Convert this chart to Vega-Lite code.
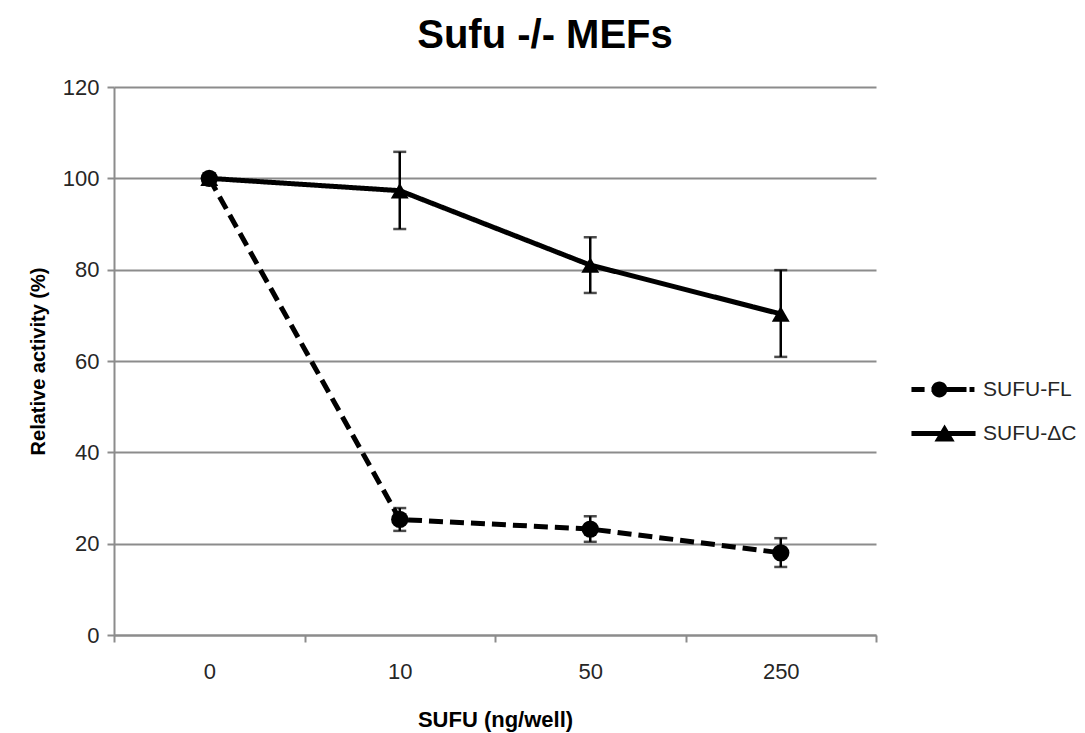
{
  "$schema": "https://vega.github.io/schema/vega-lite/v6.json",
  "width": 762,
  "height": 548,
  "autosize": "none",
  "padding": {"left": 114, "top": 87, "right": 209, "bottom": 98},
  "background": "white",
  "config": {
    "font": "Liberation Sans",
    "view": {"stroke": null},
    "axis": {"labelFont": "Liberation Sans", "titleFont": "Liberation Sans", "labelColor": "#262626", "titleColor": "#000000"}
  },
  "title": {
    "text": "Sufu -/- MEFs",
    "fontSize": 40,
    "fontWeight": "bold",
    "font": "Liberation Sans",
    "anchor": "middle",
    "dx": 50,
    "baseline": "bottom",
    "offset": -20,
    "color": "#000000"
  },
  "data": {
    "values": [
      {"dose": "0", "series": "SUFU-FL", "mean": 100, "low": 99, "high": 101},
      {"dose": "10", "series": "SUFU-FL", "mean": 25.3, "low": 22.8, "high": 27.8},
      {"dose": "50", "series": "SUFU-FL", "mean": 23.2, "low": 20.4, "high": 26.0},
      {"dose": "250", "series": "SUFU-FL", "mean": 18.0, "low": 14.9, "high": 21.2},
      {"dose": "0", "series": "SUFU-ΔC", "mean": 100, "low": 100, "high": 100},
      {"dose": "10", "series": "SUFU-ΔC", "mean": 97.3, "low": 88.9, "high": 105.8},
      {"dose": "50", "series": "SUFU-ΔC", "mean": 81.0, "low": 74.9, "high": 87.1},
      {"dose": "250", "series": "SUFU-ΔC", "mean": 70.3, "low": 60.9, "high": 79.9}
    ]
  },
  "encoding": {
    "x": {
      "field": "dose",
      "type": "ordinal",
      "sort": ["0", "10", "50", "250"],
      "scale": {"type": "band", "paddingInner": 0, "paddingOuter": 0},
      "axis": {
        "title": "SUFU (ng/well)",
        "titleFontSize": 22,
        "titleFontWeight": "bold",
        "titlePadding": 27,
        "labelAngle": 0,
        "labelFontSize": 22,
        "labelPadding": 19,
        "tickBand": "extent",
        "tickSize": 7,
        "tickWidth": 2,
        "tickColor": "#8c8c8c",
        "domainColor": "#8c8c8c",
        "domainWidth": 2,
        "grid": false
      }
    }
  },
  "layer": [
    {
      "mark": {"type": "line", "color": "black", "strokeWidth": 5},
      "encoding": {
        "y": {
          "field": "mean",
          "type": "quantitative",
          "scale": {"domain": [0, 120], "nice": false},
          "axis": {
            "title": "Relative activity (%)",
            "titleFontSize": 20,
            "titleFontWeight": "bold",
            "titlePadding": 14,
            "values": [0, 20, 40, 60, 80, 100, 120],
            "labelFontSize": 22,
            "labelPadding": 8,
            "tickSize": 7,
            "tickWidth": 2,
            "tickColor": "#8c8c8c",
            "domainColor": "#8c8c8c",
            "domainWidth": 2,
            "grid": true,
            "gridColor": "#8c8c8c",
            "gridWidth": 2
          }
        },
        "strokeDash": {
          "field": "series",
          "type": "nominal",
          "scale": {"domain": ["SUFU-FL", "SUFU-ΔC"], "range": [[14, 7], [1, 0]]},
          "legend": {
            "title": null,
            "orient": "none",
            "legendX": 808,
            "legendY": 281,
            "padding": 0,
            "symbolSize": 1849,
            "symbolFillColor": "black",
            "symbolStrokeColor": "black",
            "symbolStrokeWidth": 0,
            "symbolOpacity": 1,
            "labelFontSize": 21,
            "labelFont": "Liberation Sans",
            "labelColor": "#262626",
            "labelOffset": 18,
            "rowPadding": 12,
            "encode": {
              "symbols": {
                "update": {
                  "shape": {"signal": "datum.value === 'SUFU-FL' ? 'M-1.49,-0.116H-0.88V0.116H-1.49Z M-0.56,-0.116H1.07V0.116H-0.56Z M1.21,-0.116H1.44V0.116H1.21Z M-0.56,0A0.37,0.37 0 1,1 0.18,0A0.37,0.37 0 1,1 -0.56,0Z' : 'M-1.49,-0.116H1.49V0.116H-1.49Z M0.05,-0.42L0.52,0.37H-0.42Z'"},
                  "fill": {"value": "black"},
                  "fillOpacity": {"value": 1},
                  "strokeWidth": {"value": 0}
                }
              }
            }
          }
        }
      }
    },
    {
      "mark": {"type": "rule", "color": "black", "strokeWidth": 2.5},
      "encoding": {
        "y": {"field": "low", "type": "quantitative"},
        "y2": {"field": "high"}
      }
    },
    {
      "mark": {"type": "tick", "color": "black", "size": 13, "thickness": 2.5, "orient": "horizontal"},
      "encoding": {"y": {"field": "low", "type": "quantitative"}}
    },
    {
      "mark": {"type": "tick", "color": "black", "size": 13, "thickness": 2.5, "orient": "horizontal"},
      "encoding": {"y": {"field": "high", "type": "quantitative"}}
    },
    {
      "transform": [{"filter": "datum.series === 'SUFU-FL'"}],
      "mark": {"type": "point", "shape": "circle", "filled": true, "color": "black", "opacity": 1, "size": 300},
      "encoding": {"y": {"field": "mean", "type": "quantitative"}}
    },
    {
      "transform": [{"filter": "datum.series === 'SUFU-ΔC'"}],
      "mark": {"type": "point", "shape": "triangle-up", "filled": true, "color": "black", "opacity": 1, "size": 320},
      "encoding": {"y": {"field": "mean", "type": "quantitative"}}
    }
  ]
}
